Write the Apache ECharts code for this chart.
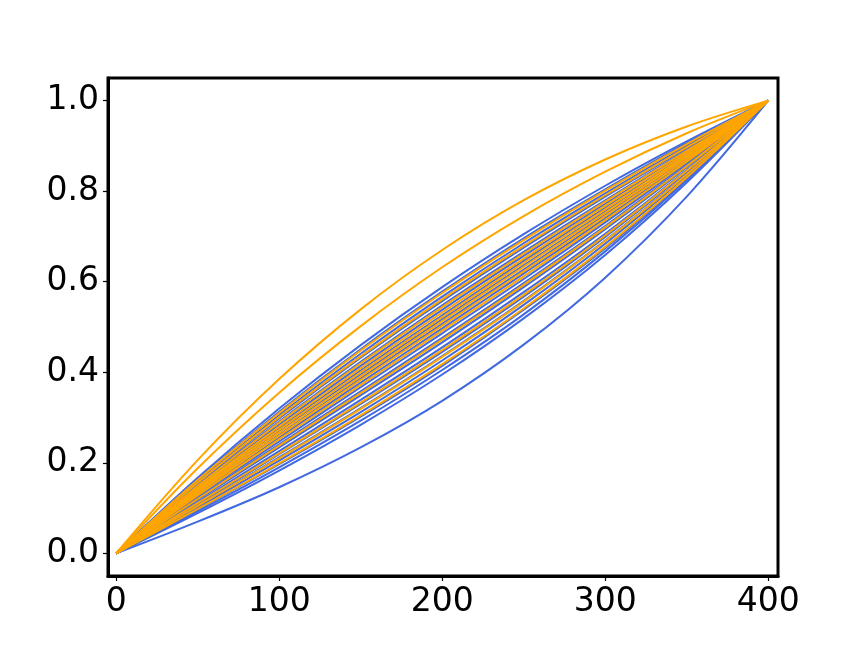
<!DOCTYPE html>
<html>
<head>
<meta charset="utf-8">
<script src="https://cdn.jsdelivr.net/npm/echarts@6/dist/echarts.min.js"></script>
<style>html,body{margin:0;padding:0;background:#fff}#c{width:864px;height:648px}</style>
</head>
<body>
<div id="c"></div>
<script>
var xValues = [0, 50, 100, 150, 200, 250, 300, 350, 400];
var xTicks = [0, 100, 200, 300, 400];
var yTicks = [0, 0.2, 0.4, 0.6, 0.8, 1.0];

// blue curves (values at xValues)
var blueOutlier = [0, .070, .146, .234, .337, .461, .609, .788, 1];
var blueBand = [
  [0, .089, .183, .284, .395, .519, .659, .819, 1],
  [0, .093, .190, .293, .405, .528, .667, .824, 1],
  [0, .097, .197, .302, .414, .538, .674, .828, 1],
  [0, .101, .205, .312, .426, .549, .684, .834, 1],
  [0, .105, .212, .321, .436, .558, .691, .838, 1],
  [0, .109, .219, .330, .445, .567, .699, .843, 1],
  [0, .113, .226, .339, .455, .577, .706, .847, 1],
  [0, .118, .234, .349, .466, .588, .716, .853, 1],
  [0, .122, .241, .358, .476, .597, .723, .857, 1],
  [0, .126, .247, .367, .486, .606, .731, .862, 1],
  [0, .130, .256, .377, .497, .618, .740, .867, 1],
  [0, .134, .262, .386, .507, .627, .748, .872, 1],
  [0, .138, .269, .395, .517, .636, .755, .876, 1],
  [0, .142, .276, .404, .526, .646, .763, .881, 1],
  [0, .147, .284, .414, .538, .657, .772, .886, 1],
  [0, .151, .291, .423, .548, .666, .780, .891, 1],
  [0, .155, .298, .432, .557, .675, .788, .895, 1],
  [0, .158, .305, .441, .567, .685, .795, .900, 1],
  [0, .163, .313, .451, .578, .696, .804, .906, 1],
  [0, .167, .320, .460, .588, .705, .812, .910, 1]
];
// orange curves
var orangeOuter = [
  [0, .206, .385, .539, .670, .780, .870, .943, 1],
  [0, .188, .355, .502, .632, .745, .843, .928, 1]
];
var orangeBand = [
  [0, .098, .199, .305, .418, .541, .677, .830, 1],
  [0, .105, .210, .319, .434, .556, .690, .837, 1],
  [0, .111, .221, .333, .449, .571, .702, .845, 1],
  [0, .120, .238, .354, .472, .593, .720, .855, 1],
  [0, .128, .252, .372, .492, .612, .736, .865, 1],
  [0, .133, .260, .383, .503, .623, .745, .870, 1],
  [0, .137, .267, .391, .513, .633, .752, .875, 1],
  [0, .141, .273, .400, .522, .642, .760, .879, 1],
  [0, .144, .280, .409, .532, .651, .768, .884, 1],
  [0, .149, .289, .420, .544, .662, .777, .889, 1],
  [0, .156, .301, .435, .561, .679, .791, .897, 1],
  [0, .162, .310, .448, .575, .692, .801, .904, 1]
];

var BLUE = '#4169E1', ORANGE = '#FFA500';
function mk(vals, color) {
  return {
    type: 'line', showSymbol: false, smooth: 0.33, silent: true,
    data: xValues.map(function (x, i) { return [x, vals[i]]; }),
    lineStyle: { color: color, width: 2 }
  };
}
var series = [];
series.push(mk(blueOutlier, BLUE));
blueBand.forEach(function (c) { series.push(mk(c, BLUE)); });
orangeOuter.forEach(function (c) { series.push(mk(c, ORANGE)); });
orangeBand.forEach(function (c) { series.push(mk(c, ORANGE)); });

var font = { fontFamily: 'DejaVu Sans', fontSize: 33, color: '#000' };
var chart = echarts.init(document.getElementById('c'), null, { renderer: 'canvas' });
chart.setOption({
  animation: false,
  backgroundColor: '#fff',
  grid: { left: 108, right: 86, top: 78, bottom: 72, show: true, borderColor: '#000', borderWidth: 3, backgroundColor: 'transparent' },
  xAxis: {
    type: 'value', min: -5, max: 406, position: 'bottom',
    axisLine: { show: true, onZero: false, lineStyle: { color: '#000', width: 3 } },
    splitLine: { show: false },
    axisTick: { show: true, inside: false, customValues: xTicks, length: 5, lineStyle: { color: '#000', width: 1.2 } },
    axisLabel: Object.assign({ customValues: xTicks, margin: 10 }, font)
  },
  yAxis: {
    type: 'value', min: -0.05, max: 1.05, position: 'left',
    axisLine: { show: true, onZero: false, lineStyle: { color: '#000', width: 3 } },
    splitLine: { show: false },
    axisTick: { show: true, inside: false, customValues: yTicks, length: 5, lineStyle: { color: '#000', width: 1.2 } },
    axisLabel: Object.assign({ customValues: yTicks, margin: 9, formatter: function (v) { return v.toFixed(1); } }, font)
  },
  series: series
});
</script>
</body>
</html>
